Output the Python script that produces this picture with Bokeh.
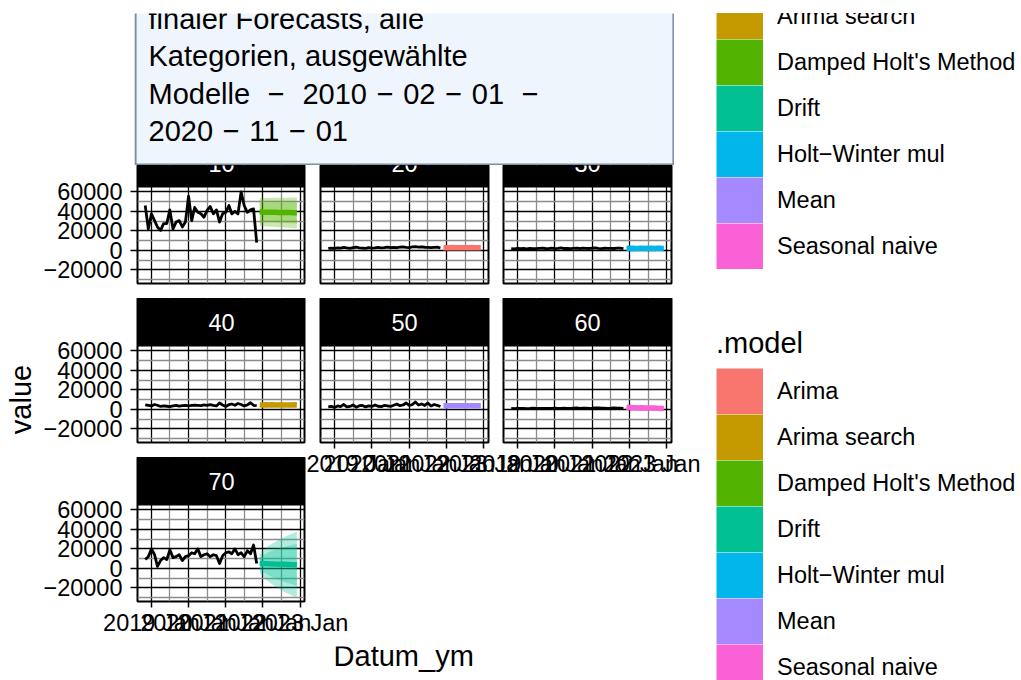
import numpy as np
import pandas as pd
from bokeh.plotting import figure
from bokeh.models import Range1d, FixedTicker, BoxAnnotation, Label, Legend, LegendItem, GridBox
from bokeh.embed import file_html
from bokeh.resources import INLINE

FONT = "Liberation Sans"

# ---------------- data ----------------
DASH = "\u2004\u2212\u2004"
title_lines = ["finaler Forecasts, alle", "Kategorien, ausgewählte",
               "Modelle " + DASH + " 2010" + DASH + "02" + DASH + "01 " + DASH,
               "2020" + DASH + "11" + DASH + "01"]
x_title = "Datum_ym"
y_title = "value"
legend_title = ".model"

models = ["Arima", "Arima search", "Damped Holt's Method", "Drift",
          "Holt−Winter mul", "Mean", "Seasonal naive"]
model_colors = ["#F8766D", "#C49A00", "#53B400", "#00C094", "#00B6EB", "#A58AFF", "#FB61D7"]

categories = ["10", "20", "30", "40", "50", "60", "70"]
category_models = ["Damped Holt's Method", "Arima", "Holt−Winter mul", "Arima search",
                   "Mean", "Seasonal naive", "Drift"]

hist_start = "2018-11-01"
hist_len = 37
fc_start = "2021-12-01"
fc_len = 13

hist_10 = [46000, 22000, 37500, 30500, 24000, 20500, 27500, 27500, 41500, 22000,
           29000, 30500, 24000, 29000, 55500, 30500, 44000, 39000, 37500, 34000,
           41000, 45000, 37500, 41500, 29000, 37500, 39000, 46000, 37500, 40000,
           37500, 60000, 46000, 39000, 41500, 42500, 8000]
hist_20 = [2000, 2300, 2100, 2600, 2200, 3000, 2500, 2100, 2700, 3200,
           2600, 2400, 2100, 2800, 2300, 2500, 3100, 2600, 2900, 3400,
           2800, 3000, 2700, 3300, 3600, 3100, 2900, 3500, 3800, 3300,
           3600, 3200, 3000, 2800, 3100, 3300, 2400]
hist_30 = [1800, 1600, 2000, 1700, 1900, 1600, 2100, 1800, 1700, 2000,
           2200, 1900, 1800, 2300, 1700, 2000, 2600, 1900, 2100, 1800,
           2000, 2200, 1900, 2400, 2100, 1900, 2200, 2500, 2000, 1800,
           2300, 2000, 2100, 1900, 2200, 2300, 1700]
hist_40 = [4500, 4000, 3500, 5000, 4200, 3000, 3600, 3200, 2800, 3500,
           4000, 3300, 3800, 4200, 3600, 4000, 4400, 4100, 3800, 4500,
           4200, 4800, 4000, 3500, 6500, 4500, 3000, 4800, 5500, 4200,
           6000, 5000, 3500, 4500, 6800, 4200, 3800]
hist_50 = [2500, 3000, 2000, 3500, 2800, 5000, 2500, 3000, 4500, 2200,
           3800, 4000, 2500, 3500, 3000, 4500, 3200, 2800, 4000, 3500,
           3000, 4200, 5500, 3800, 4500, 6500, 4000, 5000, 7500, 4500,
           5500, 4000, 6500, 3500, 5000, 4200, 3000]
hist_60 = [900, 800, 1000, 900, 1100, 800, 900, 1200, 1000, 900,
           1100, 1000, 900, 1000, 1200, 1100, 1000, 1300, 1100, 1000,
           1200, 1400, 1100, 1200, 1300, 1100, 1200, 1400, 1500, 1200,
           1300, 1100, 1200, 1400, 1300, 1200, 1100]
hist_70 = [9000, 12000, 20000, 14000, 2000, 8000, 11000, 9000, 19000, 11000,
           12000, 14000, 8000, 12000, 13000, 16000, 15000, 20000, 12000, 14000,
           15000, 12000, 14000, 13000, 5000, 13000, 16000, 17000, 15000, 20000,
           14000, 16000, 12000, 18000, 15000, 24000, 5000]

fc_mean_10 = [39500, 39300, 39200, 39100, 39000, 39000, 38900, 38900, 38800, 38800, 38800, 38700, 38700]
fc_hi95_10 = [53800, 53700, 53800, 53800, 53900, 53900, 54000, 54000, 54100, 54100, 54200, 54200, 54300]
fc_lo95_10 = [25200, 24900, 24600, 24400, 24200, 24000, 23800, 23600, 23400, 23200, 23000, 22800, 22600]
fc_hi80_10 = [48800, 48800, 48900, 48900, 49000, 49000, 49100, 49100, 49200, 49200, 49300, 49300, 49400]
fc_lo80_10 = [30200, 29900, 29600, 29400, 29100, 28900, 28700, 28500, 28300, 28100, 27900, 27700, 27500]

fc_mean_20 = [2800, 2750, 2800, 2850, 2800, 2800, 2750, 2800, 2800, 2850, 2800, 2800, 2800]
fc_mean_30 = [2100, 2000, 2200, 1900, 2100, 2300, 2000, 2100, 2200, 2000, 2300, 2100, 2000]
fc_mean_40 = [4600, 4400, 4700, 4500, 4800, 4400, 4600, 4700, 4400, 4600, 4500, 4700, 4500]
fc_mean_50 = [3600, 3600, 3600, 3600, 3600, 3600, 3600, 3600, 3600, 3600, 3600, 3600, 3600]
fc_mean_60 = [2200, 1800, 1600, 1700, 1500, 1600, 1400, 1500, 1300, 1400, 1200, 1000, 800]

fc_mean_70 = [5000, 4900, 4800, 4700, 4600, 4400, 4300, 4200, 4100, 4000, 3900, 3800, 3700]
fc_hi95_70 = [14000, 17800, 20800, 23200, 25200, 27000, 28900, 30400, 32200, 33600, 35000, 36400, 37800]
fc_lo95_70 = [-4000, -8200, -11400, -14000, -16200, -18400, -20500, -22200, -24200, -25800, -27400, -28900, -29500]
fc_hi80_70 = [11000, 13300, 15200, 16700, 18000, 19100, 20200, 21100, 22100, 22900, 23700, 24500, 25300]
fc_lo80_70 = [-1000, -3500, -5600, -7300, -8800, -10300, -11600, -12700, -13900, -14900, -15900, -16900, -17900]

y_ticks = [-20000, 0, 20000, 40000, 60000]
y_tick_labels = ["−20000", "0", "20000", "40000", "60000"]
y_minor = [-30000, -10000, 10000, 30000, 50000]
x_tick_dates = ["2019-01-01", "2020-01-01", "2021-01-01", "2022-01-01", "2023-01-01"]
x_tick_labels = ["2019 Jan", "2020 Jan", "2021 Jan", "2022 Jan", "2023 Jan"]
x_minor_dates = ["2019-07-02", "2020-07-02", "2021-07-02", "2022-07-02"]

# axis limits (settings)
X0, X1 = pd.Timestamp("2018-08-17"), pd.Timestamp("2023-02-14")
Y_LO, Y_HI = -34000, 64500

hist = {"10": hist_10, "20": hist_20, "30": hist_30, "40": hist_40,
        "50": hist_50, "60": hist_60, "70": hist_70}
fc_mean = {"10": fc_mean_10, "20": fc_mean_20, "30": fc_mean_30, "40": fc_mean_40,
           "50": fc_mean_50, "60": fc_mean_60, "70": fc_mean_70}
fc_bands = {"10": (fc_lo95_10, fc_hi95_10, fc_lo80_10, fc_hi80_10),
            "70": (fc_lo95_70, fc_hi95_70, fc_lo80_70, fc_hi80_70)}

hist_x = pd.date_range(hist_start, periods=hist_len, freq="MS")
fc_x = pd.date_range(fc_start, periods=fc_len, freq="MS")
color_of = dict(zip(models, model_colors))
model_of = dict(zip(categories, category_models))


def ms(d):
    return int(pd.Timestamp(d).value // 10**6)


x_major = [ms(d) for d in x_tick_dates]
x_minor = [ms(d) for d in x_minor_dates]

# ---------------- layout constants ----------------
PANEL_H, STRIP_H, FRAME_W = 96, 48, 168
TXT = "23.5px"
BIG = "29px"


def make_panel(cat, width, height, left, right, bottom, strip_vis, show_x, show_y):
    y_top = Y_HI + (Y_HI - Y_LO) * strip_vis / PANEL_H
    p = figure(width=width, height=height, x_axis_type="datetime",
               x_range=Range1d(X0, X1), y_range=Range1d(Y_LO, y_top),
               x_axis_location="below" if show_x else None,
               y_axis_location="left" if show_y else None,
               toolbar_location=None, output_backend="svg",
               min_border_left=left, min_border_right=right,
               min_border_top=0, min_border_bottom=bottom)
    p.border_fill_alpha = 0
    p.background_fill_color = "white"
    p.outline_line_color = "black"
    p.outline_line_width = 2
    p.xgrid.ticker = FixedTicker(ticks=x_major, minor_ticks=x_minor)
    p.ygrid.ticker = FixedTicker(ticks=y_ticks, minor_ticks=y_minor)
    for g in p.grid:
        g.grid_line_color = "black"
        g.grid_line_width = 1.3
        g.minor_grid_line_color = "#8C8C8C"
        g.minor_grid_line_width = 1.3
    if show_x:
        ax = p.xaxis[0]
        ax.ticker = FixedTicker(ticks=x_major)
        ax.major_label_overrides = dict(zip(x_major, x_tick_labels))
        ax.axis_line_color = None
        ax.major_tick_in = 0
        ax.major_tick_out = 6
        ax.major_tick_line_color = "black"
        ax.major_tick_line_width = 1.5
        ax.minor_tick_line_color = None
        ax.major_label_standoff = 2
        ax.major_label_text_font = FONT
        ax.major_label_text_font_size = TXT
        ax.major_label_text_color = "black"
    if show_y:
        ay = p.yaxis[0]
        ay.ticker = FixedTicker(ticks=y_ticks)
        ay.major_label_overrides = dict(zip(y_ticks, y_tick_labels))
        ay.axis_line_color = None
        ay.major_tick_in = 0
        ay.major_tick_out = 7
        ay.major_tick_line_color = "black"
        ay.major_tick_line_width = 1.5
        ay.minor_tick_line_color = None
        ay.major_label_standoff = 8
        ay.major_label_text_font = FONT
        ay.major_label_text_font_size = TXT
        ay.major_label_text_color = "black"

    c = color_of[model_of[cat]]
    p.line(hist_x, hist[cat], line_color="black", line_width=2.8, line_join="round")
    if cat in fc_bands:
        lo95, hi95, lo80, hi80 = fc_bands[cat]
        p.varea(x=fc_x, y1=lo95, y2=hi95, fill_color=c, fill_alpha=0.3)
        p.varea(x=fc_x, y1=lo80, y2=hi80, fill_color=c, fill_alpha=0.3)
    p.line(fc_x, fc_mean[cat], line_color=c, line_width=5.5)

    # facet strip
    p.add_layout(BoxAnnotation(bottom=Y_HI, fill_color="black", fill_alpha=1.0, line_color=None))
    p.add_layout(Label(x=FRAME_W / 2, y=PANEL_H + STRIP_H / 2, x_units="screen", y_units="screen",
                       text=cat, text_color="white", text_font=FONT, text_font_size=TXT,
                       text_align="center", text_baseline="middle"))
    return p


def blank(width, height):
    f = figure(width=width, height=height, x_range=Range1d(0, width), y_range=Range1d(0, height),
               x_axis_location=None, y_axis_location=None, toolbar_location=None,
               output_backend="svg", min_border=0, min_border_left=0, min_border_right=0,
               min_border_top=0, min_border_bottom=0)
    f.grid.visible = False
    f.outline_line_color = None
    f.background_fill_alpha = 0
    f.border_fill_alpha = 0
    return f


# title box
tf = blank(540, 152)
tf.add_layout(BoxAnnotation(left=1, right=539, bottom=1, top=600, fill_color="#EFF5FD",
                            fill_alpha=1.0, line_color="#7F8FA3", line_alpha=1.0, line_width=2.2))
for txt, yb in zip(title_lines, [147, 109.5, 72, 34.5]):
    tf.add_layout(Label(x=14, y=yb, text=txt, text_font=FONT, text_font_size=BIG,
                        text_color="black", text_baseline="alphabetic"))

# panels
f10 = make_panel("10", 266, 133, 96, 2, 15, 22, False, True)
f20 = make_panel("20", 184, 133, 14, 2, 15, 22, False, False)
f30 = make_panel("30", 210, 133, 13, 29, 15, 22, False, False)
f40 = make_panel("40", 266, 159, 96, 2, 15, 48, False, True)
f70 = make_panel("70", 360, 189, 96, 96, 45, 48, True, True)
f50 = make_panel("50", 227, 189, 14, 45, 45, 48, True, False)
f60 = make_panel("60", 235, 189, 38, 29, 45, 48, True, False)

# axis titles
vf = blank(40, 680)
vf.add_layout(Label(x=20, y=281, text=y_title, angle=np.pi / 2, text_font=FONT,
                    text_font_size=BIG, text_align="center", text_baseline="alphabetic",
                    text_color="black"))
xf = blank(660, 34)
xf.add_layout(Label(x=329, y=25, text=x_title, text_font=FONT, text_font_size=BIG,
                    text_align="center", text_baseline="alphabetic", text_color="black"))

# legends
lf = blank(320, 667)
dummies = [lf.line(x=[float("nan")], y=[float("nan")], line_color=c, line_width=46)
           for c in model_colors]


def make_legend(loc):
    items = [LegendItem(label=m, renderers=[r]) for m, r in zip(models, dummies)]
    return Legend(items=items, location=loc, title=legend_title,
                  title_text_font=FONT, title_text_font_size=BIG, title_text_font_style="normal",
                  title_text_color="black", title_standoff=8,
                  label_text_font=FONT, label_text_font_size=TXT, label_text_color="black",
                  glyph_width=47, glyph_height=46, label_height=46, label_standoff=14,
                  spacing=0, padding=0, margin=0, border_line_color=None,
                  background_fill_alpha=0)


lf.add_layout(make_legend((16, 411)))
lf.add_layout(make_legend((16, -10)))

col_tracks = [40, 94, 172, 94, 65, 25, 43, 141, 26, 320]
row_tracks = [13, 152, 133, 159, 30, 159, 34]

root = GridBox(
    children=[
        (vf, 0, 0, 7, 1),
        (tf, 1, 2, 1, 6),
        (f10, 2, 1, 1, 2),
        (f20, 2, 3, 1, 3),
        (f30, 2, 6, 1, 3),
        (f40, 3, 1, 1, 2),
        (f70, 4, 1, 2, 3),
        (f50, 3, 3, 2, 4),
        (f60, 3, 5, 2, 4),
        (xf, 6, 1, 1, 8),
        (lf, 1, 9, 6, 1),
    ],
    rows=[f"{h}px" for h in row_tracks],
    cols=[f"{w}px" for w in col_tracks],
    spacing=0,
)

open("out.html", "w").write(file_html(root, INLINE))
